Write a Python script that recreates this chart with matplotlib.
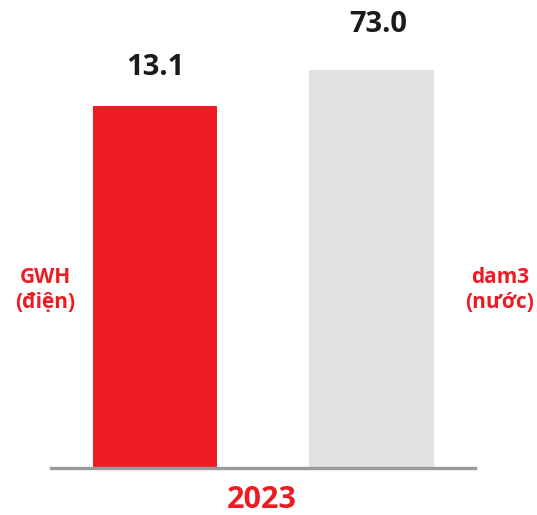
import matplotlib
matplotlib.use("Agg")
import matplotlib.pyplot as plt

# Data
years = ["2023"]
series_names = ["GWH\n(điện)", "dam3\n(nước)"]
values = [13.1, 73.0]
value_labels = ["13.1", "73.0"]

RED = "#ED1C24"
GREY = "#E1E2E4"
LINE = "#999A9C"

plt.rcParams['font.family'] = ['Open Sans', 'DejaVu Sans']

W, H = 537, 515
fig = plt.figure(figsize=(W / 100, H / 100), dpi=100)

# axes spans the baseline from x=51 to x=475, bottom at y=468
ax = fig.add_axes([51 / W, (H - 468) / H, 424 / W, 468 / H])
ax2 = ax.twinx()

# two bars on separate scales
ax.bar(0, values[0], width=0.573, color=RED, zorder=2)
ax2.bar(1, values[1], width=0.573, color=GREY, zorder=2)

ax.set_xlim(-0.48, 1.478)
ax.set_ylim(0, values[0] * 468 / 362)
ax2.set_ylim(0, values[1] * 468 / 398)

ax.annotate(value_labels[0], (0.0, values[0]), xytext=(0, 17), textcoords="offset points",
            ha="center", va="bottom", fontsize=21, fontweight="bold", color="#1a1a1a")
ax2.annotate(value_labels[1], (1.03, values[1]), xytext=(0, 22), textcoords="offset points",
             ha="center", va="bottom", fontsize=21, fontweight="bold", color="#1a1a1a")

for a in (ax, ax2):
    for s in ["top", "left", "right"]:
        a.spines[s].set_visible(False)
    a.set_yticks([])
    a.set_xticks([])
ax.spines["bottom"].set_color(LINE)
ax.spines["bottom"].set_linewidth(2.4)
ax2.spines["bottom"].set_visible(False)
ax.set_zorder(ax2.get_zorder() + 1)
ax.patch.set_visible(False)

# side unit labels and year
fig.text(45 / W, 1 - 290 / H, series_names[0], ha="center", va="center",
         fontsize=15, fontweight="bold", color=RED, linespacing=1.2)
fig.text(500 / W, 1 - 290 / H, series_names[1], ha="center", va="center",
         fontsize=15, fontweight="bold", color=RED, linespacing=1.2)
fig.text(262 / W, 1 - 500 / H, years[0], ha="center", va="center",
         fontsize=22, fontweight="bold", color=RED)

fig.savefig("out.png", dpi=100)
